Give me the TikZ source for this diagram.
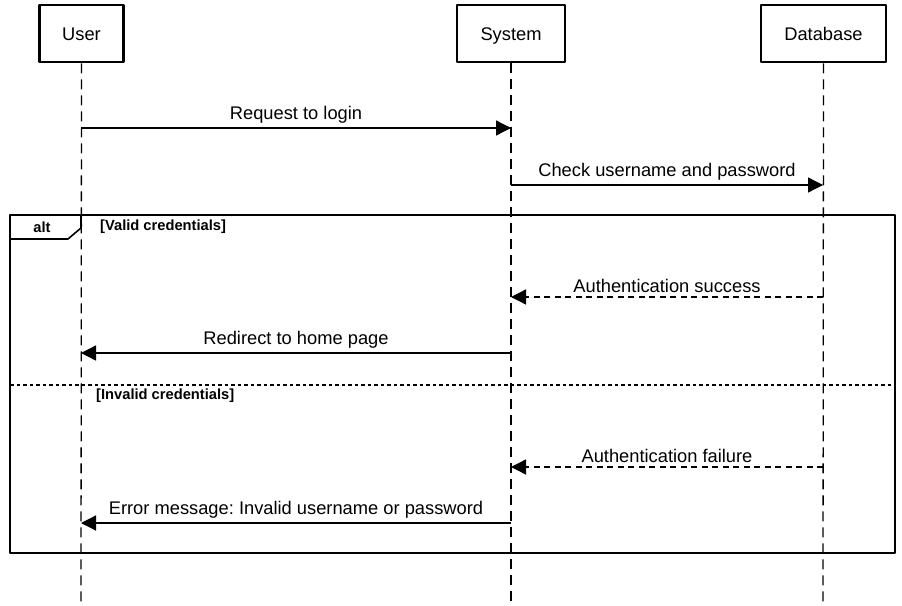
\documentclass[tikz,border=0pt]{standalone}
\usepackage{fontspec}
\setmainfont{Liberation Sans}
\usetikzlibrary{arrows.meta}
\frenchspacing
\begin{document}
\begin{tikzpicture}[x=1pt,y=-1pt,font=\fontsize{18.3}{21}\selectfont,line join=round,
		>={Triangle[length=15pt,width=15pt]},
		actor/.style={draw,line width=2.6pt,minimum height=57pt,inner sep=0pt,text height=13pt,text depth=0pt},
		lifeline/.style={line width=1.3pt,dash pattern=on 10pt off 6pt},
		msg/.style={->,line width=1.3pt},
		reply/.style={->,line width=1.3pt,dash pattern=on 6pt off 4.5pt},
		guard/.style={font=\fontsize{14.7}{17}\selectfont\bfseries,inner sep=0pt,anchor=west}]
	\useasboundingbox (0,0) rectangle (902,605);
	% participants
	\node[actor,minimum width=84pt] (user) at (81.5,33.5) {User};
	\node[actor,minimum width=108pt] (system) at (511,33.5) {System};
	\node[actor,minimum width=125pt] (db) at (823.5,33.5) {Database};
	\coordinate (userEnd) at (81,605);
	\coordinate (systemEnd) at (511,605);
	\coordinate (dbEnd) at (823,605);
	\foreach \p in {user,system,db} \draw[lifeline] (\p.south) -- (\p End);
	% alt frame
	\coordinate (altNW) at (10,215);
	\coordinate (altSE) at (895,553);
	\draw[line width=2pt] (altNW) rectangle (altSE);
	\draw[line width=1.6pt] (10,239) -- (68,239) -- (81,228) -- (81,215);
	\node[guard,anchor=center] (alt) at (42,227) {alt};
	\coordinate (sepW) at (10,385);
	\coordinate (sepE) at (895,385);
	\draw[line width=2pt,dash pattern=on 3.5pt off 3pt] (sepW) -- (sepE);
	\node[guard] (valid) at (100,226.5) {[Valid credentials]};
	\node[guard] (invalid) at (96,396) {[Invalid credentials]};
	% messages
	\foreach \m/\y in {1/128,2/185,3/297,4/353,5/467,6/523} {
		\coordinate (u\m) at (81,\y);
		\coordinate (s\m) at (511,\y);
		\coordinate (d\m) at (823,\y);
	}
	\draw[msg] (u1) -- node[above,inner sep=4pt] {Request to login} (s1);
	\draw[msg] (s2) -- node[above,inner sep=4pt] {Check username and password} (d2);
	\draw[reply] (d3) -- node[above,inner sep=4pt] {Authentication success} (s3);
	\draw[msg] (s4) -- node[above,inner sep=4pt] {Redirect to home page} (u4);
	\draw[reply] (d5) -- node[above,inner sep=4pt] {Authentication failure} (s5);
	\draw[msg] (s6) -- node[above,inner sep=4pt] {Error message: Invalid username or password} (u6);
\end{tikzpicture}
\end{document}
